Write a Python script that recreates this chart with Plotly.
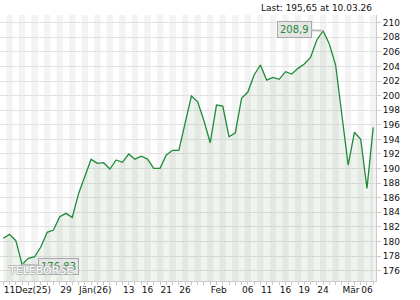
import plotly.graph_objects as go

# ---- data -------------------------------------------------------------
values = [180.43, 180.97, 180.10, 176.83, 177.68, 177.90, 179.27, 181.25, 181.56, 183.39,
          183.85, 183.30, 186.55, 188.87, 191.26, 190.71, 190.80, 189.93, 191.17, 190.85,
          191.99, 191.28, 191.69, 191.30, 190.03, 190.03, 191.85, 192.50, 192.50, 196.24,
          199.95, 199.16, 196.56, 193.54, 198.71, 198.57, 194.36, 194.91, 199.63, 200.49,
          202.83, 204.20, 202.14, 202.51, 202.24, 203.28, 202.96, 203.74, 204.33, 205.25,
          207.63, 208.90, 207.08, 204.20, 197.34, 190.48, 194.97, 194.00, 187.28, 195.65]
x_idx = list(range(len(values)))

tick_labels = ["11Dez(25)", "29", "Jän(26)", "13", "16", "21", "26",
               "Feb", "06", "11", "16", "19", "24", "Mär", "06"]
tick_index = [0, 9, 12, 19, 22, 25, 28, 33, 38, 41, 44, 47, 50, 54, 57]

y_ticks = list(range(176, 211, 2))
last_text = "Last: 195,65 at 10.03.26"
watermark = "TELEBÖRSE"

# ---- styling ----------------------------------------------------------
GREEN = "#1f8b3b"
FONT = "Verdana, DejaVu Sans, sans-serif"

fig = go.Figure()
fig.add_trace(go.Scatter(
    x=x_idx, y=values, mode="lines",
    line=dict(color=GREEN, width=1.3),
    fill="tozeroy", fillcolor="rgba(40,110,40,0.075)",
    hoverinfo="skip", showlegend=False,
))

# alternating vertical stripes, one per data point
shapes = []
for i in x_idx:
    if i % 2 == 1:
        shapes.append(dict(type="rect", xref="x", yref="paper",
                           x0=i - 0.5, x1=i + 0.5, y0=0, y1=1,
                           fillcolor="#f3f3f3", line=dict(width=0), layer="below"))

lo_i = min(x_idx, key=lambda i: values[i])
hi_i = max(x_idx, key=lambda i: values[i])

def fmt(v):
    return f"{v:g}".replace(".", ",")

annotations = [
    dict(x=hi_i, y=values[hi_i], xref="x", yref="y", text=fmt(values[hi_i]),
         showarrow=True, arrowhead=0, arrowwidth=2, arrowcolor="#bdbdbd",
         ax=-29, ay=-1, standoff=0,
         bgcolor="#e4e4e4", bordercolor="#a8a8a8", borderwidth=1, borderpad=2,
         font=dict(family=FONT, size=10, color=GREEN)),
    dict(x=lo_i, y=values[lo_i], xref="x", yref="y", text=fmt(values[lo_i]),
         showarrow=True, arrowhead=0, arrowwidth=2, arrowcolor="#bdbdbd",
         ax=36, ay=2, standoff=0,
         bgcolor="rgba(228,228,228,0.85)", bordercolor="#a8a8a8", borderwidth=1, borderpad=2,
         font=dict(family=FONT, size=10, color=GREEN)),
    dict(x=0.109, y=0.04, xref="paper", yref="paper", text=watermark,
         showarrow=False, xanchor="center", yanchor="middle",
         font=dict(family="DejaVu Sans, sans-serif", size=11, color="#ffffff",
                   shadow="1px 0 0 #b8b8b8, -1px 0 0 #b8b8b8, 0 1px 0 #b8b8b8, 0 -1px 0 #b8b8b8")),
    dict(x=1, y=1, xref="paper", yref="paper", text=last_text,
         showarrow=False, xanchor="right", yanchor="bottom", xshift=-2, yshift=0,
         font=dict(family=FONT, size=9, color="#111111")),
]

fig.update_layout(
    width=420, height=300,
    margin=dict(l=0, r=44, t=15, b=19, autoexpand=False),
    paper_bgcolor="white", plot_bgcolor="white",
    font=dict(family=FONT, size=9, color="#111111"),
    shapes=shapes, annotations=annotations,
    showlegend=False,
)
fig.update_xaxes(
    range=[-0.526, 59.44], showgrid=False, zeroline=False,
    showline=True, linecolor="#cccccc", linewidth=1,
    tickmode="array", tickvals=tick_index, ticktext=tick_labels,
    ticks="", ticklabelposition="outside right", tickangle=0,
    automargin=False,
    minor=dict(dtick=1, tick0=0, ticks="outside", ticklen=3, tickcolor="#c8c8c8", showgrid=False),
    tickfont=dict(family=FONT, size=9, color="#111111"),
    fixedrange=True,
)
fig.update_yaxes(
    range=[174.57, 211.06], side="right", automargin=False,
    tickmode="array", tickvals=y_ticks, ticktext=[str(v) for v in y_ticks],
    showgrid=True, gridcolor="#e2e2e2", gridwidth=1, zeroline=False,
    showline=True, linecolor="#cccccc", linewidth=1,
    ticks="outside", ticklen=4, tickcolor="#cccccc",
    tickfont=dict(family=FONT, size=9, color="#111111"),
    fixedrange=True,
)

fig.write_html("out.html", config={"displayModeBar": False})
